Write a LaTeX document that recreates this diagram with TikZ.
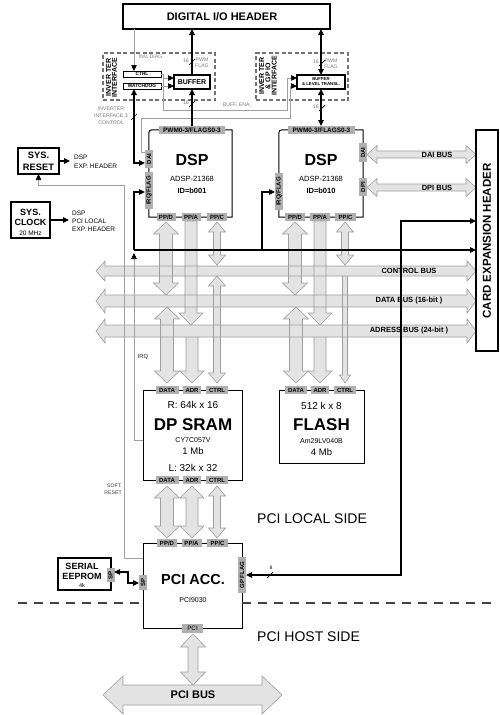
\documentclass[tikz,border=0pt]{standalone}
\usepackage{fontspec}
\setmainfont{Liberation Sans}
\usetikzlibrary{arrows.meta}
\definecolor{busf}{HTML}{E3E3E3}
\definecolor{buse}{HTML}{9E9E9E}
\definecolor{tagc}{HTML}{AFAFAF}
\definecolor{thinc}{HTML}{A0A0A0}
\definecolor{lblc}{HTML}{7A7A7A}
\newcommand\fsz[1]{\fontsize{#1}{#1}\selectfont}
\newcommand\mkbox[6]{\node[#6, minimum width={(#4-#2)*1pt}, minimum height={(#5-#3)*1pt}] (#1) at ({(#2+#4)/2},{(#3+#5)/2}) {};}
\newcommand\hdbl[6]{(#1,#3) -- ({#1+#6},{#3-#5}) -- ({#1+#6},{#3-#4}) -- ({#2-#6},{#3-#4}) -- ({#2-#6},{#3-#5}) -- (#2,#3) -- ({#2-#6},{#3+#5}) -- ({#2-#6},{#3+#4}) -- ({#1+#6},{#3+#4}) -- ({#1+#6},{#3+#5}) -- cycle }
\newcommand\vdbl[6]{(#1,#2) -- ({#1+#5},{#2+#6}) -- ({#1+#4},{#2+#6}) -- ({#1+#4},{#3-#6}) -- ({#1+#5},{#3-#6}) -- (#1,#3) -- ({#1-#5},{#3-#6}) -- ({#1-#4},{#3-#6}) -- ({#1-#4},{#2+#6}) -- ({#1-#5},{#2+#6}) -- cycle }
\newcommand\vsgl[6]{({#1-#4},#2) -- ({#1+#4},#2) -- ({#1+#4},{#3-#6}) -- ({#1+#5},{#3-#6}) -- (#1,#3) -- ({#1-#5},{#3-#6}) -- ({#1-#4},{#3-#6}) -- cycle }
\def\allbuses{%
 \hdbl{96}{476}{271}{5}{10}{9}
 \hdbl{96}{476}{301}{6}{12}{9}
 \hdbl{96}{476}{331}{6}{12}{9}
 \hdbl{367}{476}{154.5}{3.5}{9}{10}
 \hdbl{367}{476}{187.5}{3.5}{9}{10}
 \hdbl{103}{282}{695}{10}{19}{20}
 \vdbl{166}{222}{295}{6.5}{12.5}{12}
 \vsgl{191}{221}{325}{6}{12}{12}
 \vdbl{217}{222}{265}{3.5}{8.5}{10}
 \vdbl{167}{307}{383}{6.5}{12.5}{12}
 \vsgl{192}{337}{383}{6}{12}{12}
 \vdbl{217}{276}{383}{3.5}{8.5}{10}
 \vdbl{295}{222}{295}{6.5}{12.5}{12}
 \vsgl{320}{221}{325}{6}{12}{12}
 \vdbl{345}{222}{265}{3.5}{8.5}{10}
 \vdbl{296}{307}{383}{6.5}{12.5}{12}
 \vsgl{320}{337}{383}{6}{12}{12}
 \vsgl{345}{276}{383}{2.5}{5.5}{8}
 \vdbl{167}{486}{538}{6.5}{12.5}{12}
 \vdbl{192}{486}{538}{6}{12}{12}
 \vdbl{217}{486}{538}{3.5}{8.5}{10}
 \vdbl{193}{634}{685}{5}{12.5}{13}
}
\tikzset{
 blk/.style={draw=black, line width=1pt, inner sep=0pt, outer sep=0pt},
 tagn/.style={fill=tagc, inner sep=0pt, outer sep=0pt, minimum height=8pt, font=\bfseries\fsz{6}},
 sigl/.style={draw=black, line width=1.3pt},
 thinl/.style={draw=thinc, line width=0.6pt},
 lblg/.style={text=lblc, font=\fsz{5.2}, inner sep=0pt, align=center},
 bustxt/.style={font=\bfseries\fsz{7.5}, inner sep=0pt},
 busfill/.style={fill=busf},
 busline/.style={draw=buse, line width=0.6pt},
 divline/.style={draw=black!75, line width=2pt, dash pattern=on 9pt off 7pt},
 dashbox/.style={draw=black!55, line width=1.1pt, dash pattern=on 4pt off 2.5pt, inner sep=0pt},
 slashm/.style={draw=black, line width=0.7pt},
 txt/.style={inner sep=0pt}
}
\begin{document}
\begin{tikzpicture}[x=1pt,y=-1pt, >={Triangle[length=6pt,width=5.5pt,color=black]}]
\useasboundingbox (0,0) rectangle (500,715);
% ---- buses
\fill[busfill] \allbuses;
\draw[busline] \allbuses;
% ---- boxes
\mkbox{hdr}{123}{4}{330}{29}{blk,line width=1.3pt}
\mkbox{card}{476}{130}{498}{351}{blk,line width=1.1pt}
\mkbox{rst}{18}{148}{59}{174}{blk,line width=1.3pt}
\mkbox{clk}{11}{202}{50}{238}{blk,line width=1.3pt}
\mkbox{invL}{103}{53}{215}{100}{dashbox}
\mkbox{invR}{256}{53}{348}{100}{dashbox}
\mkbox{ctrl}{123}{71}{161}{77}{blk,line width=0.9pt}
\mkbox{wd}{123}{83}{161}{89}{blk,line width=0.9pt}
\mkbox{buf}{174}{75}{210}{89}{blk,line width=1.3pt}
\mkbox{bufR}{297}{75}{345}{89}{blk,line width=1.3pt}
\mkbox{dsp1}{149}{130}{232}{217}{inner sep=0pt}
\mkbox{dsp2}{279}{130}{363}{217}{inner sep=0pt}
\mkbox{sram}{143}{390}{242}{480}{blk}
\mkbox{flash}{279}{390}{364}{463}{blk}
\mkbox{pci}{143}{543}{242}{628}{blk}
\mkbox{eep}{58}{558}{111}{590}{blk,line width=1.3pt}
\draw[blk] (dsp1.south west) -- ([yshift=-7pt]dsp1.north west) .. controls (dsp1.north west) .. ([xshift=7pt]dsp1.north west) -- (dsp1.north east) -- (dsp1.south east) -- cycle;
\draw[blk] (dsp2.south west) -- ([yshift=-7pt]dsp2.north west) .. controls (dsp2.north west) .. ([xshift=7pt]dsp2.north west) -- (dsp2.north east) -- (dsp2.south east) -- cycle;
% ---- tags
\node[tagn, minimum width=66pt, font=\bfseries\fsz{6.4}] (pwm1) at (192,130) {PWM0-3/FLAGS0-3};
\node[tagn, rotate=90, minimum width=18pt] (dai1) at (149,159) {DAI};
\node[tagn, rotate=90, minimum width=37pt] (irq1) at (149,190.5) {IRQ/FLAG};
\node[tagn, minimum width=19pt] (ppd1) at (166,217) {PP/D};
\node[tagn, minimum width=19pt] (ppa1) at (191,217) {PP/A};
\node[tagn, minimum width=20pt] (ppc1) at (217,217) {PP/C};
\node[tagn, minimum width=67pt, font=\bfseries\fsz{6.4}] (pwm2) at (321.5,130) {PWM0-3/FLAGS0-3};
\node[tagn, rotate=90, minimum width=37pt] (irq2) at (279,191.5) {IRQ/FLAG};
\node[tagn, rotate=90, minimum width=19pt] (dai2) at (363,152.5) {DAI};
\node[tagn, rotate=90, minimum width=18pt] (dpi2) at (363,187) {DPI};
\node[tagn, minimum width=20pt] (ppd2) at (295,217) {PP/D};
\node[tagn, minimum width=20pt] (ppa2) at (320,217) {PP/A};
\node[tagn, minimum width=21pt] (ppc2) at (345.5,217) {PP/C};
\node[tagn, minimum width=23pt] (sd1) at (167,390) {DATA};
\node[tagn, minimum width=18pt] (sa1) at (192,390) {ADR};
\node[tagn, minimum width=22pt] (sc1) at (217,390) {CTRL};
\node[tagn, minimum width=23pt] (sd2) at (167,480) {DATA};
\node[tagn, minimum width=18pt] (sa2) at (192,480) {ADR};
\node[tagn, minimum width=22pt] (sc2) at (217,480) {CTRL};
\node[tagn, minimum width=22pt] (fd) at (296,390) {DATA};
\node[tagn, minimum width=18pt] (fa) at (320,390) {ADR};
\node[tagn, minimum width=22pt] (fc) at (345,390) {CTRL};
\node[tagn, minimum width=20pt] (pd) at (167,543) {PP/D};
\node[tagn, minimum width=20pt] (pa) at (191.5,543) {PP/A};
\node[tagn, minimum width=21pt] (pc) at (217.5,543) {PP/C};
\node[tagn, rotate=90, minimum width=15pt] (psp) at (143,582.5) {SP};
\node[tagn, rotate=90, minimum width=36pt] (pgp) at (242,575) {GP FLAG};
\node[tagn, minimum width=21pt, minimum height=9pt, font=\fsz{6.3}] (ppci) at (192.5,628) {PCI};
\node[tagn, rotate=90, minimum width=14pt] (esp) at (110.5,575) {SP};
% ---- coordinates
\coordinate (xinv) at (134,0);
\coordinate (ena1) at (163,110);
\coordinate (ena2) at (287,110);
\coordinate (bL1) at (174,78);
\coordinate (bR1) at (297,78);
\coordinate (bR2) at (297,86);
\coordinate (dai1a) at (145,152);
\coordinate (dai1b) at (141,118);
\coordinate (dai1c) at (290,118);
\coordinate (dai1in) at (145,163);
\coordinate (j1) at (134,250);
\coordinate (j2) at (262,250);
\coordinate (irq1in) at (145,192);
\coordinate (irq2in) at (275,192);
\coordinate (gpin) at (246,575);
\coordinate (gpb) at (401,575);
\coordinate (gpa) at (401,221);
\coordinate (irqa) at (134,440);
\coordinate (irqb) at (134,253);
\coordinate (sra) at (124,558);
\coordinate (srb) at (124,185);
\coordinate (rsto) at (70,161);
\coordinate (clko) at (69,220);
\coordinate (ee1) at (114,572);
\coordinate (ee2) at (128,572);
\coordinate (ee3) at (128,583);
\coordinate (ee4) at (139,583);
\coordinate (dvl) at (18,603);
\coordinate (dvr) at (497,603);
% ---- thin grey signals
\draw[thinl,->] (hdr.south -| xinv) -- (ctrl.north -| xinv);
\draw[thinl,->] (ctrl.east) -| (ena1) -- (ena2) |- (bR1);
\draw[thinl,->] (ena1 |- bL1) -- (bL1);
\draw[thinl,->] (wd.east) -- (wd.east -| buf.west);
\draw[thinl,->] (dai1a) -| (dai1b) -- (dai1c) |- (bR2);
\draw[thinl,->] (sram.west |- irqa) -- (irqa) -- (irqb);
\draw[thinl,->] (pci.west |- sra) -- (sra) -- (srb) -| (rst.south);
% ---- black signals
\draw[sigl,<->] (wd.south -| xinv) -- (xinv |- dai1in) -- (dai1in);
\draw[sigl,->] (pwm1.north) -- (buf.south);
\draw[sigl,->] (buf.north) -- (hdr.south -| buf.north);
\draw[sigl,<->] (hdr.south -| bufR.north) -- (bufR.north);
\draw[sigl,<->] (bufR.south) -- (bufR.south |- pwm2.north);
\draw[sigl,->] (j1) -- (j1 -| card.west);
\draw[sigl,->] (j1) |- (irq1in);
\draw[sigl,->] (j2) |- (irq2in);
\draw[sigl,<->] (gpin) -- (gpb) -- (gpa) -- (gpa -| card.west);
\draw[sigl,->,line width=1.1pt] (rst.east) -- (rsto);
\draw[sigl,->,line width=1.1pt] (clk.east) -- (clko);
\draw[sigl,<->,line width=1.2pt] (ee1) -- (ee2) -- (ee3) -- (ee4);
% ---- bus width marks
\draw[slashm] (131,120) -- (137,114);
\draw[slashm] (189,65) -- (195,59);
\draw[slashm] (189,107) -- (195,101);
\draw[slashm] (319,66) -- (325,60);
\draw[slashm] (319,111) -- (325,105);
\draw[slashm] (267,578) -- (273,572);
% ---- divider
\draw[divline] (dvl) -- (dvl -| pci.west);
\draw[divline] (dvr -| pci.east) -- (dvr);
% ---- texts
\node[txt, font=\bfseries\fsz{11}] (hdrt) at (222,17) {DIGITAL I/O HEADER};
\node[txt, rotate=90, font=\bfseries\fsz{11.5}] (cardt) at (487,241) {CARD EXPANSION HEADER};
\node[txt, rotate=90, font=\bfseries\fontsize{7}{6}\selectfont, align=center] (invLt) at (111.5,77.5) {INVER TER\\INTERFACE};
\node[txt, rotate=90, font=\bfseries\fontsize{7}{6.2}\selectfont, align=center] (invRt) at (268,76) {INVER TER\\\& GP IO\\INTERFACE};
\node[txt, font=\bfseries\fsz{4.8}] at (ctrl) {CTRL};
\node[txt, font=\bfseries\fsz{4.8}] at (wd) {WATCHDOG};
\node[txt, font=\bfseries\fsz{7}] at (buf) {BUFFER};
\node[txt, font=\bfseries\fontsize{4.3}{5}\selectfont, align=center] at (bufR) {BUFFER\\\& LEVEL TRANSL.};
\node[lblg] at (150.5,57) {INV. DIAG};
\node[lblg, font=\fontsize{5.2}{6}\selectfont] at (202,63) {PWM\\FLAG};
\node[lblg, anchor=east] at (189,61) {16};
\node[lblg, anchor=east] at (189,103) {16};
\node[lblg, font=\fontsize{5.2}{6}\selectfont] at (331,64) {PWM\\FLAG};
\node[lblg, anchor=east] at (319,62) {16};
\node[lblg, anchor=east] at (319,107) {16};
\node[lblg] at (237,105) {BUFF. ENA.};
\node[lblg, font=\fontsize{5.2}{7}\selectfont] at (111,116) {INVERTER\\INTERFACE 3\\CONTROL};
\node[lblg, text=black!75, font=\fontsize{5.2}{6.5}\selectfont, align=right, anchor=east] at (122,489) {SOFT.\\RESET};
\node[lblg, text=black!85, font=\fsz{6}] at (143,357) {IRQ};
\node[lblg, text=black, font=\fsz{5}] at (271,568) {8};
% DSP texts
\node[txt, font=\bfseries\fsz{16}] at (192,160) {DSP};
\node[txt, font=\fsz{7.5}] at (192,179) {ADSP-21368};
\node[txt, font=\bfseries\fsz{7.5}] at (192,191) {ID=b001};
\node[txt, font=\bfseries\fsz{16}] at (321,160) {DSP};
\node[txt, font=\fsz{7.5}] at (321,179) {ADSP-21368};
\node[txt, font=\bfseries\fsz{7.5}] at (321,191) {ID=b010};
% SRAM texts
\node[txt, font=\fsz{10}] at (193,405) {R: 64k x 16};
\node[txt, font=\bfseries\fsz{17}] at (193,425) {DP SRAM};
\node[txt, font=\fsz{7}] at (193,440) {CY7C057V};
\node[txt, font=\fsz{9.5}] at (193,451) {1 Mb};
\node[txt, font=\fsz{10}] at (193,468) {L: 32k x 32};
% FLASH texts
\node[txt, font=\fsz{10}] at (321.5,406) {512 k x 8};
\node[txt, font=\bfseries\fsz{17}] at (321.5,425) {FLASH};
\node[txt, font=\fsz{7}] at (321.5,441) {Am29LV040B};
\node[txt, font=\fsz{9.5}] at (321.5,452) {4 Mb};
% PCI texts
\node[txt, font=\bfseries\fsz{14.5}] at (193,580) {PCI ACC.};
\node[txt, font=\fsz{7}] at (193,600) {PCI9030};
\node[txt, font=\bfseries\fsz{11}] at (193,695) {PCI BUS};
\node[txt, font=\fsz{14}, anchor=west] at (257,519) {PCI LOCAL SIDE};
\node[txt, font=\fsz{14}, anchor=west] at (257,637) {PCI HOST SIDE};
% EEPROM texts
\node[txt, font=\bfseries\fsz{9}] at (82,566) {SERIAL};
\node[txt, font=\bfseries\fsz{9}] at (82,576) {EEPROM};
\node[txt, font=\fsz{5.5}] at (82,585.5) {4k};
% SYS boxes
\node[txt, font=\bfseries\fsz{9.3}] at (38.5,155) {SYS.};
\node[txt, font=\bfseries\fsz{9.3}] at (38.5,167) {RESET};
\node[txt, font=\bfseries\fsz{9}] at (30.5,212) {SYS.};
\node[txt, font=\bfseries\fsz{9}] at (30.5,222.5) {CLOCK};
\node[txt, font=\fsz{6.5}] at (30.5,233) {20 MHz};
\node[txt, font=\fontsize{6.5}{9}\selectfont, align=left, anchor=west] at (74,161.5) {DSP\\EXP. HEADER};
\node[txt, font=\fontsize{6.5}{8}\selectfont, align=left, anchor=west] at (72,221) {DSP\\PCI LOCAL\\EXP. HEADER};
% bus labels
\node[bustxt] at (409,271) {CONTROL BUS};
\node[bustxt] at (409,301) {DATA BUS (16-bit )};
\node[bustxt] at (409,331) {ADRESS BUS (24-bit )};
\node[bustxt] at (437,154.5) {DAI BUS};
\node[bustxt] at (437,187.5) {DPI BUS};
\end{tikzpicture}
\end{document}
